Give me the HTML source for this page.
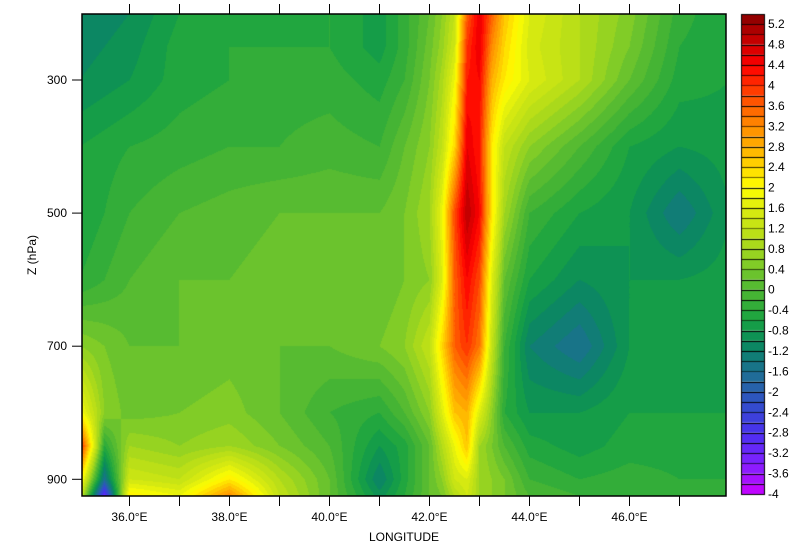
<!DOCTYPE html>
<html><head><meta charset="utf-8"><style>
body{margin:0;background:#fff;width:805px;height:548px;overflow:hidden;font-family:"Liberation Sans",sans-serif;}
#wrap{position:relative;width:805px;height:548px;}
canvas{position:absolute;left:0;top:0;}
svg{position:absolute;left:0;top:0;}
text{font-family:"Liberation Sans",sans-serif;font-size:12px;fill:#000;}
</style></head><body>
<div id="wrap">
<canvas id="cv" width="805" height="548"></canvas>
<svg id="sv" width="805" height="548"></svg>
</div>
<script>
const lons=[35,35.5,36,37,38,39,40,41,41.5,42,42.25,42.5,42.75,43,43.25,43.5,44,45,46,47,48];
const levels=[200,250,300,400,500,600,700,800,850,900,925];
const row200=[-1.2,-1.1,-1.0,-0.6,-0.5,-0.5,-0.4,-0.7,-0.3,0.2,0.6,1.2,3.6,4.6,3.6,2.6,1.6,1.0,0.5,-0.3,-0.6];
const row250=[-1.1,-1.0,-0.9,-0.5,-0.4,-0.4,-0.4,-0.7,-0.3,0.3,0.7,1.4,4.0,4.6,3.2,2.4,1.5,1.0,0.4,-0.4,-0.6];
const row300=[-1.0,-0.9,-0.8,-0.5,-0.4,-0.3,-0.3,-0.5,-0.2,0.4,0.9,1.8,4.2,4.4,2.8,2.2,1.6,1.0,0.2,-0.5,-0.6];
const row400=[-0.6,-0.5,-0.4,-0.3,-0.2,-0.2,-0.1,-0.2,0.2,0.6,1.2,2.4,4.6,4.2,2.2,1.2,0.6,0.0,-0.6,-0.8,-0.7];
const row500=[-0.6,-0.4,-0.2,0.0,0.1,0.2,0.2,0.2,0.4,0.8,1.8,3.8,5.0,4.4,2.2,0.8,-0.2,-0.6,-0.8,-1.4,-0.8];
const row600=[-0.4,-0.2,0.0,0.2,0.2,0.3,0.3,0.2,0.4,0.6,1.6,3.6,4.4,3.8,1.6,0.2,-0.6,-1.0,-0.8,-0.8,-0.7];
const row700=[0.6,0.4,0.2,0.2,0.3,0.2,0.2,0.4,0.6,1.2,2.4,3.6,4.0,3.4,1.2,-0.2,-1.2,-1.6,-0.8,-0.7,-0.7];
const row800=[2.0,0.6,0.3,0.4,0.5,0.2,-0.2,-0.4,0.0,0.6,1.6,2.6,2.8,1.6,0.6,-0.4,-0.8,-0.8,-0.6,-0.6,-0.6];
const row850=[4.4,-0.4,0.8,0.6,0.8,0.4,0.0,-0.8,-0.5,0.2,1.0,1.8,2.6,0.8,0.4,0.0,-0.5,-0.7,-0.5,-0.5,-0.5];
const row900=[2.4,-1.6,1.4,1.2,2.2,1.0,0.2,-1.2,-0.5,0.2,0.6,1.4,1.6,0.8,0.6,0.4,-0.2,-0.4,-0.3,-0.4,-0.4];
const row925=[1.6,-3.2,2.2,1.8,3.2,1.2,0.2,-0.9,-0.4,0.2,0.4,1.0,1.4,0.8,0.6,0.4,0.0,-0.2,-0.2,-0.3,-0.3];
const field=[row200,row250,row300,row400,row500,row600,row700,row800,row850,row900,row925];
const yTicks=[300,500,700,900];
const xMajor=[36,38,40,42,44,46];
const xMinor=[37,39,41,43,45,47];
const cbLabels=[5.2,4.8,4.4,4,3.6,3.2,2.8,2.4,2,1.6,1.2,0.8,0.4,0,-0.4,-0.8,-1.2,-1.6,-2,-2.4,-2.8,-3.2,-3.6,-4];
const cbMin=-4, cbMax=5.4, cbStep=0.2;

const X0=82,X1=726,Y0=14,Y1=496;
const xs=l=>129.5+(l-36)*50;
const ys=p=>80+(p-300)*0.6655;
const xinv=x=>36+(x-129.5)/50;
const yinv=y=>300+(y-80)/0.6655;

const stops=[[-4,[204,0,255]],[-3.4,[128,32,255]],[-2.8,[74,48,240]],[-2.2,[48,80,200]],[-1.8,[36,104,160]],[-1.4,[20,120,128]],[-1.0,[10,140,90]],[-0.6,[24,162,66]],[-0.2,[60,176,54]],[0.2,[96,190,48]],[0.6,[140,208,36]],[1.0,[180,220,24]],[1.6,[220,236,16]],[2.0,[255,255,0]],[2.4,[255,216,0]],[2.8,[255,176,0]],[3.2,[255,140,0]],[3.6,[255,96,0]],[4.0,[255,48,0]],[4.4,[255,0,0]],[4.8,[208,0,0]],[5.4,[136,0,0]]];
function colorFor(v){
  let b=Math.floor((v-cbMin)/cbStep);b=Math.max(0,Math.min(46,b));
  const c=cbMin+(b+0.5)*cbStep;
  for(let i=0;i<stops.length-1;i++){const a=stops[i],d=stops[i+1];
    if(c<=d[0]){const t=(c-a[0])/(d[0]-a[0]);return a[1].map((q,k)=>Math.round(q+(d[1][k]-q)*t));}}
  return stops[stops.length-1][1];
}
function idx(arr,v){let i=0;while(i<arr.length-2&&v>arr[i+1])i++;const t=Math.max(0,Math.min(1,(v-arr[i])/(arr[i+1]-arr[i])));return [i,t];}
function val(l,p){const [i,tx]=idx(lons,l);const [j,ty]=idx(levels,p);
  const a=field[j][i],b=field[j][i+1],c=field[j+1][i],d=field[j+1][i+1];
  return (a*(1-tx)+b*tx)*(1-ty)+(c*(1-tx)+d*tx)*ty;}

const ctx=document.getElementById('cv').getContext('2d');
const img=ctx.createImageData(X1-X0,Y1-Y0);
for(let y=Y0;y<Y1;y++){const p=yinv(y+0.5);
  for(let x=X0;x<X1;x++){const c=colorFor(val(xinv(x+0.5),p));const o=((y-Y0)*(X1-X0)+(x-X0))*4;
    img.data[o]=c[0];img.data[o+1]=c[1];img.data[o+2]=c[2];img.data[o+3]=255;}}
ctx.putImageData(img,X0,Y0);
// colorbar
const CB0=741,CB1=764,nb=Math.round((cbMax-cbMin)/cbStep),bh=(Y1-2-Y0)/nb;
for(let b=0;b<nb;b++){const c=colorFor(cbMin+(b+0.5)*cbStep);ctx.fillStyle=`rgb(${c})`;
  const yt=Y1-2-(b+1)*bh;ctx.fillRect(CB0,yt,CB1-CB0,bh);
  ctx.fillStyle='#000';ctx.fillRect(CB0,Math.round(yt),CB1-CB0,1);}
ctx.strokeStyle='#000';ctx.lineWidth=1;ctx.strokeRect(CB0+0.5,Y0+0.5,CB1-CB0,Y1-2-Y0);

const NS='http://www.w3.org/2000/svg',sv=document.getElementById('sv');
function mk(t,a,txt){const e=document.createElementNS(NS,t);for(const k in a)e.setAttribute(k,a[k]);if(txt!==undefined)e.textContent=txt;sv.appendChild(e);return e;}
let e=mk('rect',{x:X0,y:Y0,width:X1-X0,height:Y1-Y0,fill:'none',stroke:'#000','stroke-width':1.5});


xMajor.concat(xMinor).forEach(l=>{const x=xs(l);
  e=mk('line',{x1:x,x2:x,y1:Y1,y2:Y1+10,stroke:'#000'});
  
  
  e=mk('line',{x1:x,x2:x,y1:Y0,y2:Y0-10,stroke:'#000'});
  
  });
xMajor.forEach(l=>{e=mk('text',{x:xs(l),y:521,'text-anchor':'middle'},l.toFixed(1)+'°E');
  
  });
yTicks.forEach(p=>{const y=ys(p);
  e=mk('line',{x1:X0-10,x2:X0,y1:y,y2:y,stroke:'#000'});
  
  
  e=mk('text',{x:67,y:y+4,'text-anchor':'end'},String(p));
  
  });
e=mk('text',{x:404,y:541,'text-anchor':'middle'},'LONGITUDE');


e=mk('text',{x:36,y:255,'text-anchor':'middle',transform:'rotate(-90 36 255)'},'Z (hPa)');


cbLabels.forEach(v=>{const y=Y1-2-(v-cbMin)/cbStep*bh;
  e=mk('text',{x:768,y:y+4},String(v));
  
  });
</script>
</body></html>
